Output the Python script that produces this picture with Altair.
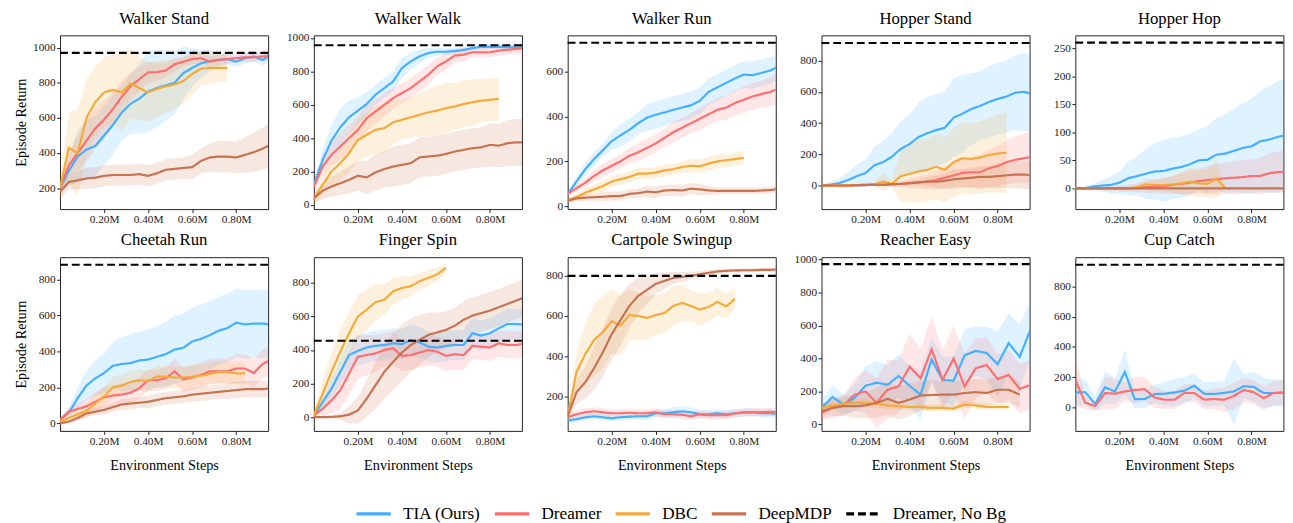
import altair as alt
import pandas as pd

FONT = "Liberation Serif"
METHODS = ["TIA (Ours)", "Dreamer", "DBC", "DeepMDP", "Dreamer, No Bg"]
COLORS = ["#42B0FF", "#FF6E6E", "#F5AA37", "#C87350", "#000000"]
DASHES = [[1, 0], [1, 0], [1, 0], [1, 0], [8, 4]]
X_TICKS = [0.2, 0.4, 0.6, 0.8]

# environment steps (millions) at which each curve is sampled
GRID_04 = [0.00, 0.04, 0.08, 0.12, 0.16, 0.20, 0.24, 0.28, 0.32, 0.36, 0.40, 0.44, 0.48,
           0.52, 0.56, 0.60, 0.64, 0.68, 0.72, 0.76, 0.80, 0.84, 0.88, 0.92, 0.96]
GRID_05 = [0.00, 0.05, 0.10, 0.15, 0.20, 0.25, 0.30, 0.35, 0.40, 0.45, 0.50, 0.55, 0.60,
           0.65, 0.70, 0.75, 0.80, 0.85, 0.90, 0.95]
GRID_045 = [0.000, 0.045, 0.090, 0.135, 0.180, 0.225, 0.270, 0.315, 0.360, 0.405, 0.450,
            0.495, 0.540, 0.585, 0.630, 0.675, 0.720, 0.765, 0.810, 0.855, 0.900, 0.945]

# ---- Walker Stand
ws_tia = [200, 300, 380, 420, 440, 500, 560, 630, 680, 710, 750, 770, 785, 800, 855, 885, 910, 925, 930, 935, 920, 940, 950, 930, 960]
ws_tia_sd = [30, 80, 150, 170, 170, 170, 170, 160, 170, 200, 230, 220, 200, 180, 150, 110, 80, 60, 40, 30, 30, 30, 30, 30, 30]
ws_dreamer = [200, 330, 400, 470, 540, 590, 650, 720, 780, 820, 860, 860, 870, 905, 920, 935, 940, 920, 930, 935, 940, 945, 945, 950, 955]
ws_dreamer_sd = [20, 60, 100, 120, 120, 110, 100, 90, 80, 70, 60, 50, 40, 40, 30, 30, 30, 30, 30, 25, 25, 25, 25, 25, 25]
ws_dbc = [200, 430, 400, 600, 690, 745, 760, 745, 795, 770, 745, 765, 780, 790, 810, 850, 880, 885, 885, 885]
ws_dbc_sd = [60, 200, 250, 220, 200, 200, 200, 220, 200, 180, 170, 160, 150, 140, 130, 120, 100, 90, 80, 80]
ws_deepmdp = [180, 235, 245, 255, 260, 270, 275, 275, 275, 280, 270, 285, 305, 310, 315, 320, 355, 375, 380, 380, 375, 390, 405, 425, 450]
ws_deepmdp_sd = [40, 40, 50, 60, 60, 60, 60, 60, 60, 60, 60, 60, 60, 60, 60, 70, 70, 80, 90, 90, 90, 100, 110, 120, 130]

# ---- Walker Walk
ww_tia = [120, 270, 385, 465, 525, 565, 605, 660, 700, 740, 820, 860, 890, 910, 918, 918, 922, 928, 940, 947, 947, 947, 945, 945, 945]
ww_tia_sd = [30, 60, 100, 110, 100, 80, 70, 60, 60, 60, 60, 50, 40, 30, 25, 20, 20, 20, 15, 15, 15, 15, 15, 15, 15]
ww_dreamer = [110, 230, 300, 350, 400, 450, 520, 560, 600, 640, 670, 700, 740, 780, 830, 860, 895, 900, 915, 915, 915, 925, 930, 935, 940]
ww_dreamer_sd = [30, 50, 70, 80, 80, 80, 80, 70, 70, 60, 60, 60, 60, 60, 50, 50, 40, 40, 30, 30, 30, 30, 30, 30, 30]
ww_dbc = [35, 120, 200, 250, 310, 390, 420, 450, 460, 495, 510, 525, 540, 555, 565, 580, 590, 605, 615, 625, 630, 635]
ww_dbc_sd = [30, 60, 80, 100, 120, 120, 130, 140, 150, 130, 120, 120, 130, 140, 150, 150, 140, 140, 140, 130, 130, 130]
ww_deepmdp = [40, 85, 110, 130, 150, 175, 165, 195, 215, 230, 240, 250, 285, 290, 295, 305, 320, 330, 340, 345, 360, 355, 370, 375, 375]
ww_deepmdp_sd = [30, 50, 60, 70, 80, 90, 100, 110, 110, 120, 120, 120, 120, 120, 120, 120, 120, 120, 120, 120, 130, 130, 140, 140, 140]

# ---- Walker Run
wr_tia = [53, 110, 165, 210, 250, 290, 316, 340, 370, 395, 408, 418, 430, 440, 450, 470, 510, 530, 550, 570, 587, 584, 595, 605, 625]
wr_tia_sd = [10, 20, 30, 30, 30, 40, 50, 50, 50, 60, 60, 60, 60, 60, 60, 60, 60, 60, 60, 60, 60, 60, 60, 60, 60]
wr_dreamer = [55, 80, 105, 135, 160, 180, 200, 225, 240, 260, 280, 305, 330, 350, 370, 390, 410, 430, 440, 460, 475, 490, 500, 510, 525]
wr_dreamer_sd = [10, 15, 20, 25, 30, 30, 30, 35, 40, 40, 40, 40, 45, 45, 45, 50, 50, 50, 55, 55, 60, 60, 60, 65, 70]
wr_dbc = [25, 40, 60, 75, 90, 110, 120, 130, 145, 145, 150, 160, 165, 175, 180, 178, 190, 200, 205, 210, 215]
wr_dbc_sd = [10, 15, 20, 20, 25, 25, 25, 25, 25, 25, 25, 25, 25, 25, 30, 30, 30, 30, 30, 30, 30]
wr_deepmdp = [25, 35, 38, 40, 42, 45, 45, 55, 58, 65, 62, 70, 72, 70, 78, 75, 70, 68, 68, 68, 68, 68, 70, 72, 78]
wr_deepmdp_sd = [10, 15, 15, 15, 20, 20, 20, 20, 20, 25, 25, 25, 25, 25, 25, 25, 20, 15, 15, 15, 15, 15, 15, 15, 15]

# ---- Hopper Stand
hs_tia = [0, 5, 15, 35, 60, 80, 130, 150, 185, 235, 265, 310, 335, 355, 370, 435, 460, 490, 510, 535, 555, 570, 595, 600, 585]
hs_tia_sd = [5, 20, 30, 50, 70, 90, 120, 140, 150, 180, 190, 220, 230, 230, 230, 250, 250, 230, 220, 230, 230, 230, 240, 250, 240]
hs_dreamer = [0, 0, 0, 0, 2, 5, 5, 5, 8, 10, 15, 20, 25, 35, 50, 65, 80, 85, 85, 110, 125, 150, 165, 175, 185]
hs_dreamer_sd = [2, 3, 5, 5, 10, 10, 10, 10, 15, 20, 30, 40, 50, 60, 70, 80, 90, 100, 110, 120, 130, 140, 150, 160, 165]
hs_dbc = [0, 0, 0, 2, 3, 5, 8, 25, 12, 60, 75, 90, 100, 120, 100, 150, 175, 170, 180, 195, 205, 210]
hs_dbc_sd = [2, 2, 3, 5, 5, 5, 10, 60, 20, 170, 180, 200, 200, 210, 210, 220, 230, 230, 230, 240, 250, 260]
hs_deepmdp = [0, 0, 0, 0, 2, 3, 5, 5, 8, 10, 15, 20, 25, 25, 30, 40, 45, 50, 55, 55, 60, 65, 70, 70, 65]
hs_deepmdp_sd = [2, 2, 3, 3, 5, 5, 5, 5, 5, 10, 15, 20, 30, 40, 50, 60, 60, 60, 70, 70, 80, 80, 90, 90, 90]

# ---- Hopper Hop
hh_tia = [0, 0, 3, 5, 6, 10, 18, 22, 26, 30, 31, 35, 38, 43, 50, 51, 60, 62, 67, 72, 75, 84, 87, 92, 95]
hh_tia_sd = [1, 3, 5, 10, 15, 20, 30, 35, 45, 50, 55, 55, 55, 55, 55, 60, 65, 70, 75, 80, 85, 90, 95, 100, 100]
hh_dreamer = [0, 0, 0, 0, 0, 0, 0, 1, 2, 3, 4, 6, 8, 10, 13, 15, 16, 18, 19, 20, 22, 22, 27, 29, 30]
hh_dreamer_sd = [0, 1, 2, 3, 4, 5, 6, 8, 10, 12, 14, 16, 18, 20, 22, 25, 27, 28, 30, 30, 30, 32, 35, 37, 38]
hh_dbc = [0, 0, 0, 0, 0, 0, 0, 2, 7, 6, 6, 7, 9, 12, 9, 8, 17, 1]
hh_dbc_sd = [0, 0, 0, 0, 0, 1, 2, 5, 10, 10, 12, 15, 20, 25, 25, 25, 35, 2]
hh_deepmdp = [0, 0, 0, 0, 0, 0, 0, 0, 0, 0, 0, 0, 0, 0, 0, 0, 0, 0, 0, 0, 0, 0, 0, 0, 0]
hh_deepmdp_sd = [1, 1, 1, 1, 1, 1, 1, 1, 1, 1, 1, 1, 1, 1, 1, 1, 1, 1, 1, 1, 1, 1, 1, 1, 1]

# ---- Cheetah Run
cr_tia = [20, 60, 140, 210, 250, 280, 320, 330, 335, 350, 355, 370, 385, 410, 420, 455, 470, 490, 515, 530, 560, 550, 555, 555, 550]
cr_tia_sd = [10, 30, 60, 80, 100, 110, 130, 150, 160, 160, 170, 170, 180, 190, 190, 190, 190, 190, 190, 190, 190, 190, 190, 190, 190]
cr_dreamer = [20, 65, 80, 95, 120, 145, 155, 160, 170, 195, 240, 240, 250, 290, 245, 255, 270, 290, 290, 290, 305, 305, 280, 330, 355]
cr_dreamer_sd = [10, 20, 30, 40, 50, 60, 60, 60, 60, 60, 60, 60, 60, 70, 70, 70, 70, 70, 70, 70, 80, 80, 80, 80, 80]
cr_dbc = [10, 30, 50, 70, 110, 150, 200, 210, 230, 240, 235, 260, 260, 255, 255, 260, 265, 275, 285, 285, 278, 278]
cr_dbc_sd = [10, 20, 30, 40, 50, 50, 60, 60, 60, 60, 60, 60, 60, 60, 60, 60, 60, 60, 60, 60, 60, 60]
cr_deepmdp = [0, 10, 30, 55, 65, 75, 90, 105, 110, 115, 120, 130, 140, 145, 150, 160, 165, 170, 175, 180, 185, 190, 190, 190, 195]
cr_deepmdp_sd = [5, 10, 15, 20, 20, 25, 25, 30, 30, 30, 35, 35, 35, 35, 40, 40, 40, 40, 40, 45, 45, 45, 45, 45, 45]

# ---- Finger Spin
fs_tia = [10, 90, 170, 270, 370, 395, 415, 425, 430, 440, 435, 460, 445, 420, 415, 425, 430, 430, 500, 486, 500, 530, 555, 555, 550]
fs_tia_sd = [10, 40, 60, 80, 90, 90, 90, 90, 90, 90, 90, 90, 90, 90, 90, 90, 90, 90, 90, 90, 90, 90, 90, 90, 90]
fs_dreamer = [10, 50, 100, 160, 260, 360, 370, 380, 400, 410, 365, 370, 385, 400, 390, 365, 375, 370, 425, 420, 415, 440, 430, 430, 440]
fs_dreamer_sd = [10, 40, 80, 110, 130, 130, 120, 110, 100, 100, 90, 90, 90, 90, 90, 90, 90, 90, 80, 80, 80, 80, 80, 80, 80]
fs_dbc = [10, 140, 270, 390, 500, 600, 640, 685, 700, 750, 770, 780, 810, 830, 850, 890]
fs_dbc_sd = [20, 80, 120, 130, 130, 130, 120, 110, 90, 80, 70, 60, 50, 50, 40, 30]
fs_deepmdp = [0, 0, 2, 5, 15, 40, 110, 190, 270, 330, 385, 430, 460, 490, 505, 520, 545, 580, 605, 620, 635, 655, 675, 695, 715]
fs_deepmdp_sd = [2, 5, 10, 20, 50, 80, 110, 140, 160, 170, 170, 160, 150, 130, 120, 110, 110, 110, 110, 110, 110, 110, 110, 110, 110]

# ---- Cartpole Swingup
cs_tia = [80, 85, 95, 100, 95, 90, 95, 98, 100, 100, 115, 115, 120, 125, 120, 110, 110, 115, 110, 115, 120, 120, 115, 115, 110]
cs_tia_sd = [10, 15, 15, 15, 15, 15, 15, 15, 15, 20, 20, 20, 25, 25, 25, 20, 20, 20, 20, 20, 20, 20, 20, 20, 20]
cs_dreamer = [95, 110, 120, 125, 120, 115, 115, 118, 115, 115, 120, 110, 110, 108, 100, 110, 105, 105, 105, 115, 118, 120, 120, 122, 120]
cs_dreamer_sd = [15, 20, 20, 20, 20, 20, 20, 20, 20, 20, 20, 20, 20, 20, 20, 20, 20, 20, 20, 20, 20, 20, 20, 20, 20]
cs_dbc = [100, 320, 410, 480, 520, 574, 552, 605, 600, 590, 605, 615, 650, 665, 650, 632, 645, 670, 648, 685]
cs_dbc_sd = [20, 100, 150, 180, 180, 160, 150, 130, 120, 110, 100, 100, 100, 90, 80, 80, 70, 70, 60, 50]
cs_deepmdp = [100, 220, 270, 340, 420, 510, 580, 650, 700, 730, 760, 775, 790, 795, 800, 808, 815, 822, 825, 827, 828, 828, 830, 830, 832]
cs_deepmdp_sd = [20, 60, 80, 110, 120, 130, 130, 110, 90, 70, 50, 40, 30, 25, 20, 15, 15, 12, 10, 10, 10, 10, 10, 10, 10]

# ---- Reacher Easy
re_tia = [100, 166, 120, 160, 234, 253, 240, 293, 234, 180, 393, 269, 265, 419, 445, 433, 365, 493, 409, 579]
re_tia_sd = [50, 70, 60, 80, 120, 130, 120, 130, 120, 150, 130, 140, 150, 160, 150, 160, 200, 180, 200, 170]
re_dreamer = [70, 100, 115, 180, 200, 130, 210, 230, 350, 280, 455, 270, 400, 230, 340, 360, 275, 300, 215, 240]
re_dreamer_sd = [50, 60, 60, 100, 130, 150, 180, 160, 200, 180, 200, 180, 200, 200, 180, 170, 150, 150, 150, 150]
re_dbc = [100, 115, 125, 130, 130, 125, 115, 110, 105, 105, 100, 100, 95, 120, 115, 105, 105, 105]
re_dbc_sd = [20, 25, 25, 25, 25, 25, 25, 20, 20, 20, 20, 20, 20, 20, 20, 20, 20, 20]
re_deepmdp = [80, 100, 110, 110, 115, 130, 155, 130, 150, 175, 178, 180, 180, 190, 195, 190, 210, 210, 180]
re_deepmdp_sd = [40, 50, 60, 70, 80, 90, 100, 100, 100, 90, 90, 80, 80, 80, 80, 80, 80, 80, 80]

# ---- Cup Catch
cc_tia = [98, 100, 22, 133, 104, 235, 53, 55, 88, 90, 98, 110, 143, 90, 88, 95, 105, 140, 135, 95, 95, 95]
cc_tia_sd = [90, 80, 50, 110, 80, 150, 60, 60, 60, 80, 90, 90, 80, 80, 80, 80, 220, 80, 100, 100, 90, 90]
cc_dreamer = [180, 30, 8, 95, 90, 105, 115, 120, 65, 50, 50, 95, 95, 50, 55, 50, 75, 115, 100, 60, 95, 100]
cc_dreamer_sd = [170, 40, 30, 110, 100, 60, 90, 80, 70, 60, 60, 60, 60, 60, 70, 80, 90, 80, 80, 80, 80, 80]

# "Dreamer, No Bg" reference levels
NO_BG = {"Walker Stand": 970, "Walker Walk": 957, "Walker Run": 729, "Hopper Stand": 913,
         "Hopper Hop": 260, "Cheetah Run": 882, "Finger Spin": 455, "Cartpole Swingup": 800,
         "Reacher Easy": 972, "Cup Catch": 946}

PANELS = [
    ("Walker Stand", GRID_04, [81, 1070], [200, 400, 600, 800, 1000],
     [(ws_tia, ws_tia_sd), (ws_dreamer, ws_dreamer_sd), (ws_dbc, ws_dbc_sd), (ws_deepmdp, ws_deepmdp_sd)]),
    ("Walker Walk", GRID_04, [-25, 1016], [0, 200, 400, 600, 800, 1000],
     [(ww_tia, ww_tia_sd), (ww_dreamer, ww_dreamer_sd), (ww_dbc, ww_dbc_sd), (ww_deepmdp, ww_deepmdp_sd)]),
    ("Walker Run", GRID_04, [-13, 762], [0, 200, 400, 600],
     [(wr_tia, wr_tia_sd), (wr_dreamer, wr_dreamer_sd), (wr_dbc, wr_dbc_sd), (wr_deepmdp, wr_deepmdp_sd)]),
    ("Hopper Stand", GRID_04, [-151, 962], [0, 200, 400, 600, 800],
     [(hs_tia, hs_tia_sd), (hs_dreamer, hs_dreamer_sd), (hs_dbc, hs_dbc_sd), (hs_deepmdp, hs_deepmdp_sd)]),
    ("Hopper Hop", GRID_04, [-37, 273], [0, 50, 100, 150, 200, 250],
     [(hh_tia, hh_tia_sd), (hh_dreamer, hh_dreamer_sd), (hh_dbc, hh_dbc_sd), (hh_deepmdp, hh_deepmdp_sd)]),
    ("Cheetah Run", GRID_04, [-42, 924], [0, 200, 400, 600, 800],
     [(cr_tia, cr_tia_sd), (cr_dreamer, cr_dreamer_sd), (cr_dbc, cr_dbc_sd), (cr_deepmdp, cr_deepmdp_sd)]),
    ("Finger Spin", GRID_04, [-82, 953], [0, 200, 400, 600, 800],
     [(fs_tia, fs_tia_sd), (fs_dreamer, fs_dreamer_sd), (fs_dbc, fs_dbc_sd), (fs_deepmdp, fs_deepmdp_sd)]),
    ("Cartpole Swingup", GRID_04, [27, 893], [200, 400, 600, 800],
     [(cs_tia, cs_tia_sd), (cs_dreamer, cs_dreamer_sd), (cs_dbc, cs_dbc_sd), (cs_deepmdp, cs_deepmdp_sd)]),
    ("Reacher Easy", GRID_05, [-40, 1014], [0, 200, 400, 600, 800, 1000],
     [(re_tia, re_tia_sd), (re_dreamer, re_dreamer_sd), (re_dbc, re_dbc_sd), (re_deepmdp, re_deepmdp_sd)]),
    ("Cup Catch", GRID_045, [-157, 996], [0, 200, 400, 600, 800],
     [(cc_tia, cc_tia_sd), (cc_dreamer, cc_dreamer_sd)]),
]

PANEL_W, PANEL_H = 212, 177
LEGEND_X, LEGEND_Y = 300, 468

color_scale = alt.Scale(domain=METHODS, range=COLORS)
dash_scale = alt.Scale(domain=METHODS, range=DASHES)
# bands only exist for the four learned methods (separate scale so the legend is kept)
fill_scale = alt.Scale(domain=METHODS[:4], range=COLORS[:4])
legend = alt.Legend(title=None, orient="none", legendX=LEGEND_X, legendY=LEGEND_Y,
                    direction="horizontal", symbolType="stroke", symbolSize=1225,
                    symbolStrokeWidth=3.5, labelFontSize=17.5, labelFont=FONT,
                    labelColor="black", columnPadding=7, labelOffset=10.5, padding=0,
                    labelLimit=400)


def make_panel(idx, title, grid, ydom, yticks, series):
    col, bottom = idx % 5, idx >= 5
    rows = []
    for m, (mean, sd) in zip(METHODS, series):
        for s, v, d in zip(grid, mean, sd):
            rows.append({"step": s, "method": m, "mean": v, "lo": v - d, "hi": v + d})
    df = pd.DataFrame(rows)
    rule_df = pd.DataFrame([{"method": METHODS[4], "mean": NO_BG[title]}])
    title_df = pd.DataFrame([{"name": title}])

    x_axis = alt.Axis(values=X_TICKS, labelExpr="format(datum.value, '.2f') + 'M'",
                      title="Environment Steps" if bottom else None)
    x = alt.X("step:Q", scale=alt.Scale(domain=[0, 0.945], nice=False, zero=False), axis=x_axis)
    y_scale = alt.Scale(domain=ydom, nice=False, zero=False)
    if col == 0:
        y_axis = alt.Axis(values=yticks, format="d", title="Episode Return",
                          minExtent=28, maxExtent=28)
    else:
        # a blank 1px title keeps every column's left extent identical
        y_axis = alt.Axis(values=yticks, format="d", title=" ", titleFontSize=1,
                          titlePadding=0, minExtent=28, maxExtent=28)

    band = alt.Chart(df).mark_area(opacity=0.17, clip=True, orient="vertical").encode(
        x=x,
        y=alt.Y("lo:Q", scale=y_scale, axis=y_axis, stack=None),
        y2="hi:Q",
        fill=alt.Fill("method:N", scale=fill_scale, legend=None),
        detail="method:N",
    )
    line = alt.Chart(df).mark_line(strokeWidth=2.2, clip=True).encode(
        x=x,
        y=alt.Y("mean:Q", scale=y_scale, axis=y_axis),
        color=alt.Color("method:N", scale=color_scale, legend=legend),
        strokeDash=alt.StrokeDash("method:N", scale=dash_scale, legend=legend),
    )
    rule = alt.Chart(rule_df).mark_rule(strokeWidth=2.2).encode(
        y=alt.Y("mean:Q", scale=y_scale, axis=y_axis),
        color=alt.Color("method:N", scale=color_scale, legend=legend),
        strokeDash=alt.StrokeDash("method:N", scale=dash_scale, legend=legend),
    )
    head = alt.Chart(title_df).mark_text(
        font=FONT, fontSize=17, color="black", baseline="alphabetic", align="center"
    ).encode(text="name:N", x=alt.value(PANEL_W / 2), y=alt.value(-12))
    return alt.layer(band, line, rule, head).properties(width=PANEL_W, height=PANEL_H)


panels = [make_panel(i, *p) for i, p in enumerate(PANELS)]

chart = alt.concat(
    *panels, columns=5, align="each",
    spacing=alt.RowColnumber(row=5, column=14.6),
).properties(
    padding={"left": 5, "top": -4, "right": 0, "bottom": 0}
).configure(font=FONT).configure_view(
    stroke="#222222", strokeWidth=1
).configure_axis(
    labelFont=FONT, labelFontSize=11.5, labelColor="#222222",
    titleFont=FONT, titleFontSize=14.5, titleColor="black", titleFontWeight="normal",
    tickColor="#222222", tickSize=3.5, tickWidth=1, domain=False, grid=False,
    labelPadding=1.5,
).configure_axisY(titlePadding=4).configure_axisX(titlePadding=12)

chart.save("out.html", embed_options={"renderer": "svg", "actions": False})
